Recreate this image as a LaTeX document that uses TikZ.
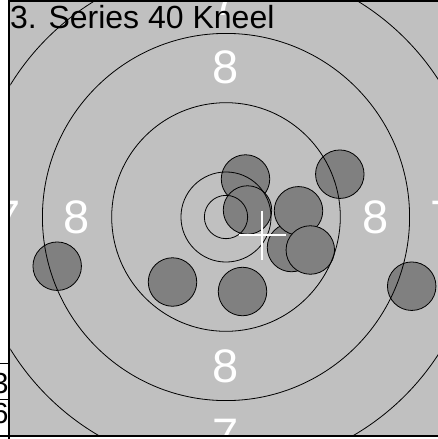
\documentclass[tikz,border=0pt]{standalone}
\usepackage{fontspec}
\setmainfont{Liberation Sans}
\usetikzlibrary{calc}

\definecolor{facegray}{RGB}{192,192,192}
\definecolor{holegray}{RGB}{128,128,128}

\begin{document}
\begin{tikzpicture}[
            x=1pt,
            y=-1pt,
            ring/.style={
                draw=black,
                line width=0.8pt
            },
            shot/.style={
                circle,
                draw=black,
                fill=holegray,
                line width=0.8pt,
                minimum size=48.5pt,
                inner sep=0pt
            },
            zonelabel/.style={
                text=white,
                font=\fontsize{47}{47}\selectfont,
                inner sep=0pt
            },
            rowtext/.style={
                anchor=base east,
                inner sep=0pt,
                font=\fontsize{29}{29}\selectfont
            },
            frameline/.style={
                black,
                line width=2pt
            },
            aimcross/.style={
                white,
                line width=2.6pt
            }
        ]

            % Parameters
            \def\pxmm{8.66}     % pixels per mm on the target
            \def\xL{10.3}       % left edge of target face
            \def\yB{435.5}      % bottom edge of target face

            \useasboundingbox (0,0) rectangle (438,439);

            % Target face
            \fill[facegray] (\xL,1.5) rectangle (438,\yB);
            \coordinate (ctr) at (226,217);

            \begin{scope}
                \clip (\xL,1.5) rectangle (438,\yB);

            % shots, in firing order
                \foreach[count=\k] \sx/\sy in {245.5/179, 247.5/210, 339.8/174.2,
                        291.5/247.5, 298.5/210.8, 310.3/250, 57.2/266.2,
                        172.5/282, 242.5/291.5, 411.7/286.2} {
                    \node[shot] (s\k) at (\sx,\sy) {};
                }

            % rings: inner ten, 10, 9, 8, 7 (radii in mm)
                \foreach \r in {2.5,5.2,13.2,21.2,29.2} {
                    \draw[ring] (ctr) circle[radius=\r*\pxmm];
                }

            % zone numbers
                \foreach \lab/\dist in {8/149.5,7/218} {
                    \foreach \ang in {0,90,180,270} {
                        \node[zonelabel] (z\lab a\ang) at ($(ctr)+(\ang:\dist)$) {\lab};
                    }
                }

            % group centre
                \coordinate (grp) at (262,235);
                \draw[aimcross] ($(grp)+(-23.5,0)$) -- ($(grp)+(23.5,0)$);
                \draw[aimcross] ($(grp)+(0,-24.5)$) -- ($(grp)+(0,24.5)$);
            \end{scope}

            % Title
            \node[anchor=base west, inner sep=0pt, font=\fontsize{32}{32}\selectfont]
                (title) at (9.8,28) {3. Series 40 Kneel};

            % Score column on the left (cut off)
            \begin{scope}
                \clip (0,340) rectangle (8.3,436);
                \node[rowtext] (rowa) at (8.6,393) {3};
                \node[rowtext] (rowb) at (8.6,423) {6};
            \end{scope}
            \draw[black, line width=1.5pt] (0,363.7) -- (\xL,363.7);
            \draw[black, line width=1.5pt] (0,399.3) -- (\xL,399.3);

            % Frame
            \draw[frameline] (9.3,0) -- (9.3,439);
            \draw[black, line width=1.7pt] (9.3,0.8) -- (438,0.8);
            \draw[black, line width=1.7pt] (0,436.3) -- (438,436.3);

        \end{tikzpicture}
\end{document}
